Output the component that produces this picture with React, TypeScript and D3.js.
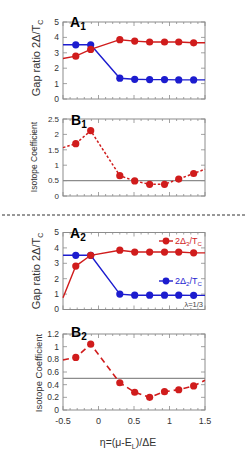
import React from "react";
import * as d3 from "d3";

const etaPoints = [-0.32, -0.11, 0.3, 0.51, 0.72, 0.93, 1.13, 1.34];
const etaEdges = [-0.5, 1.5];

// values: [left edge, ...points, right edge]
const a1Red = [2.63, 2.78, 3.22, 3.85, 3.76, 3.7, 3.7, 3.7, 3.65, 3.65];
const a1Blue = [3.52, 3.52, 3.52, 1.35, 1.28, 1.26, 1.26, 1.24, 1.24, 1.24];
const b1Iso = [1.57, 1.7, 2.12, 0.66, 0.49, 0.38, 0.38, 0.55, 0.73, 0.87];
const a2Red = [0.76, 2.82, 3.52, 3.85, 3.73, 3.73, 3.73, 3.73, 3.68, 3.68];
const a2Blue = [3.52, 3.52, 3.52, 1.0, 0.93, 0.93, 0.93, 0.93, 0.92, 0.92];
const b2Iso = [0.79, 0.83, 1.04, 0.43, 0.28, 0.2, 0.29, 0.32, 0.38, 0.47];

const xTicks = [-0.5, 0, 0.5, 1, 1.5];
const xTickLabels = ["-0.5", "0", "0.5", "1", "1.5"];
const aTicks = [0, 1, 2, 3, 4, 5];
const b1Ticks = [0, 0.5, 1, 1.5, 2, 2.5];
const b2Ticks = [0, 0.2, 0.4, 0.6, 0.8, 1, 1.2];

const RED = "#d01c1c";
const BLUE = "#1c1ccf";
const GRAY = "#8c8c8c";
const FONT = "Liberation Sans, Arial, sans-serif";

const X0 = 63;
const X1 = 205;
const x = d3.scaleLinear().domain([-0.5, 1.5]).range([X0, X1]);
const lineEta = [etaEdges[0], ...etaPoints, etaEdges[1]];

type Series = { vals: number[]; color: string; dash?: string; width?: number };

function Panel(props: {
  top: number;
  bottom: number;
  domain: [number, number];
  ticks: number[];
  tickFmt?: (v: number) => string;
  tickFont: number;
  series: Series[];
  refLine?: number;
  showX?: boolean;
}) {
  const { top, bottom, domain, ticks, series, refLine, showX, tickFont } = props;
  const y = d3.scaleLinear().domain(domain).range([bottom, top]);
  const fmt = props.tickFmt || ((v: number) => String(v));
  const minorX = d3.range(-0.5, 1.5001, 0.1);
  const line = d3
    .line<number>()
    .x((_, i) => x(lineEta[i]))
    .y((v) => y(v));
  return (
    <g>
      <rect x={X0} y={top} width={X1 - X0} height={bottom - top} fill="none" stroke={GRAY} strokeWidth={1} />
      {minorX.map((t, i) => {
        const major = Math.abs(Math.round(t * 2) - t * 2) < 1e-6;
        const L = major ? 4 : 2;
        return (
          <g key={"mx" + i} stroke={GRAY} strokeWidth={0.8}>
            <line x1={x(t)} x2={x(t)} y1={bottom} y2={bottom - L} />
            <line x1={x(t)} x2={x(t)} y1={top} y2={top + L} />
          </g>
        );
      })}
      {ticks.map((t, i) => (
        <g key={"yt" + i}>
          <line x1={X0} x2={X0 + 4} y1={y(t)} y2={y(t)} stroke={GRAY} strokeWidth={0.8} />
          <line x1={X1} x2={X1 - 4} y1={y(t)} y2={y(t)} stroke={GRAY} strokeWidth={0.8} />
          <text x={X0 - 4} y={y(t) + tickFont * 0.35} textAnchor="end" fontSize={tickFont} fill="#333" fontFamily={FONT}>
            {fmt(t)}
          </text>
        </g>
      ))}
      {refLine !== undefined && (
        <line x1={X0} x2={X1} y1={y(refLine)} y2={y(refLine)} stroke={GRAY} strokeWidth={1.2} />
      )}
      {series.map((s, si) => (
        <g key={"s" + si}>
          <path d={line(s.vals) || ""} fill="none" stroke={s.color} strokeWidth={s.width || 1.4} strokeDasharray={s.dash} />
          {etaPoints.map((e, i) => (
            <circle key={i} cx={x(e)} cy={y(s.vals[i + 1])} r={3.6} fill={s.color} />
          ))}
        </g>
      ))}
      {showX &&
        xTicks.map((t, i) => (
          <text key={"xl" + i} x={x(t)} y={bottom + 14} textAnchor="middle" fontSize={9} fill="#333" fontFamily={FONT}>
            {xTickLabels[i]}
          </text>
        ))}
    </g>
  );
}

function Title(props: { x: number; y: number; letter: string; sub: string }) {
  return (
    <text x={props.x} y={props.y} fontSize={14} fontWeight="bold" fontFamily={FONT} fill="#000">
      {props.letter}
      <tspan fontSize={10} dy={3}>
        {props.sub}
      </tspan>
    </text>
  );
}

function GapLabel(props: { cx: number; cy: number }) {
  return (
    <text
      transform={`translate(${props.cx},${props.cy}) rotate(-90)`}
      textAnchor="middle"
      fontSize={11}
      fontFamily={FONT}
      fill="#333"
    >
      Gap ratio 2Δ/T
      <tspan fontSize={7} dy={3}>C</tspan>
    </text>
  );
}

function IsoLabel(props: { cx: number; cy: number; size: number }) {
  return (
    <text
      transform={`translate(${props.cx},${props.cy}) rotate(-90)`}
      textAnchor="middle"
      fontSize={props.size}
      fontFamily={FONT}
      fill="#333"
    >
      Isotope Coefficient
    </text>
  );
}

function LegendItem(props: { y: number; color: string; sub: string }) {
  return (
    <g>
      <line x1={159} x2={173} y1={props.y} y2={props.y} stroke={props.color} strokeWidth={1.4} />
      <circle cx={166} cy={props.y} r={3.4} fill={props.color} />
      <text x={175} y={props.y + 3} fontSize={9} fontFamily={FONT} fill={props.color}>
        2Δ
        <tspan fontSize={6} dy={2}>{props.sub}</tspan>
        <tspan dy={-2}>/T</tspan>
        <tspan fontSize={6} dy={2}>C</tspan>
      </text>
    </g>
  );
}

export default function App() {
  return (
    <svg width={247} height={461} style={{ position: "absolute", left: 0, top: 0, background: "#fff" }}>
      <Panel
        top={22}
        bottom={99}
        domain={[0, 5]}
        ticks={aTicks}
        tickFont={8.5}
        series={[
          { vals: a1Blue, color: BLUE },
          { vals: a1Red, color: RED },
        ]}
      />
      <Title x={70} y={27} letter="A" sub="1" />
      <GapLabel cx={40} cy={58} />

      <Panel
        top={119}
        bottom={196}
        domain={[0, 2.5]}
        ticks={b1Ticks}
        tickFont={8}
        refLine={0.5}
        series={[{ vals: b1Iso, color: RED, dash: "2.5,2", width: 1.5 }]}
      />
      <Title x={71} y={125} letter="B" sub="1" />
      <IsoLabel cx={37} cy={157} size={8.5} />

      <line x1={2} x2={245} y1={215} y2={215} stroke="#333" strokeWidth={1} strokeDasharray="3,2" />

      <Panel
        top={232.5}
        bottom={309.5}
        domain={[0, 5]}
        ticks={aTicks}
        tickFont={8.5}
        series={[
          { vals: a2Blue, color: BLUE },
          { vals: a2Red, color: RED },
        ]}
      />
      <Title x={70} y={238} letter="A" sub="2" />
      <GapLabel cx={40} cy={271} />
      <LegendItem y={241} color={RED} sub="3" />
      <LegendItem y={281} color={BLUE} sub="2" />
      <text x={203} y={307} textAnchor="end" fontSize={7.5} fontFamily={FONT} fill="#444">
        λ=1/3
      </text>

      <Panel
        top={334}
        bottom={410}
        domain={[0, 1.2]}
        ticks={b2Ticks}
        tickFont={8.5}
        refLine={0.5}
        showX
        series={[{ vals: b2Iso, color: RED, dash: "6,4", width: 1.6 }]}
      />
      <Title x={71} y={337} letter="B" sub="2" />
      <IsoLabel cx={42} cy={373} size={9.5} />

      <text x={128} y={446} textAnchor="middle" fontSize={10.5} fontFamily={FONT} fill="#333">
        η=(μ-E
        <tspan fontSize={7} dy={3}>L</tspan>
        <tspan dy={-3}>)/ΔE</tspan>
      </text>
    </svg>
  );
}
